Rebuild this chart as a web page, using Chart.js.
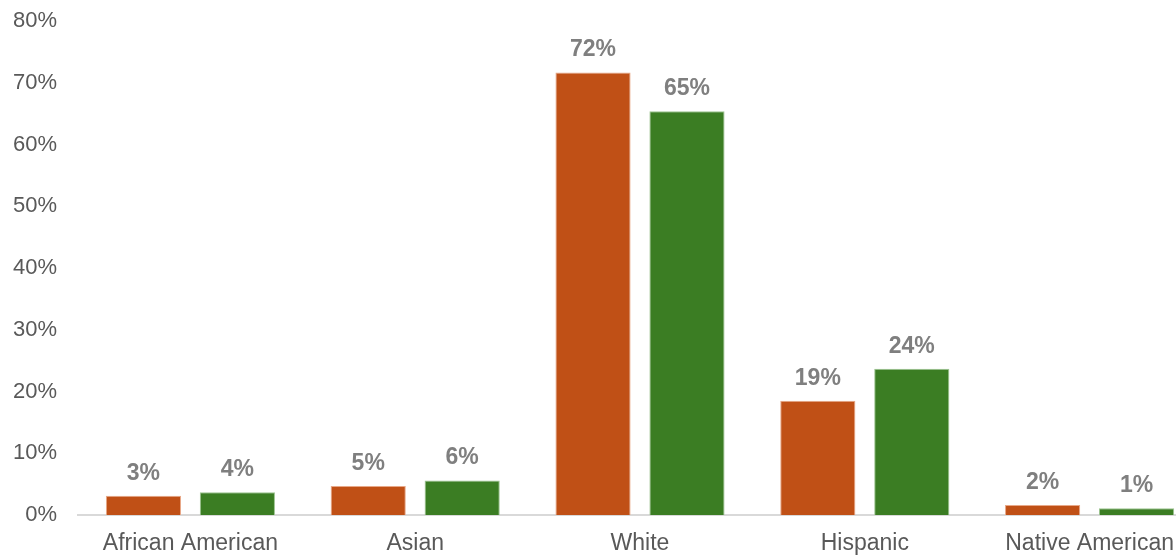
<!DOCTYPE html>
<html>
<head>
<meta charset="utf-8">
<script src="https://cdn.jsdelivr.net/npm/chart.js@4"></script>
<style>
  html, body { margin: 0; padding: 0; background: #fff; overflow: hidden; }
  #wrap { position: relative; width: 1202px; height: 555px; overflow: hidden; }
  #c { position: absolute; left: 0; top: -13px; }
</style>
</head>
<body>
<div id="wrap"><canvas id="c" width="1202" height="568"></canvas></div>
<script>
// Data.
const categories = ['African American', 'Asian', 'White', 'Hispanic', 'Native American'];
const seriesOrange = [3.1, 4.7, 71.7, 18.5, 1.6];
const seriesGreen = [3.7, 5.6, 65.4, 23.7, 1.1];
const yTicks = [0, 10, 20, 30, 40, 50, 60, 70, 80];

const FONT = '"Liberation Sans", Arial, sans-serif';

// Bold grey value labels above each bar.
const valueLabels = {
  id: 'valueLabels',
  afterDatasetsDraw(chart) {
    const ctx = chart.ctx;
    ctx.save();
    ctx.font = 'bold 23px ' + FONT;
    ctx.fillStyle = '#7f7f7f';
    ctx.textAlign = 'center';
    ctx.textBaseline = 'alphabetic';
    chart.data.datasets.forEach((ds, i) => {
      chart.getDatasetMeta(i).data.forEach((bar, j) => {
        ctx.fillText(Math.round(ds.data[j]) + '%', bar.x, bar.y - 16);
      });
    });
    ctx.restore();
  },
};

new Chart(document.getElementById('c'), {
  type: 'bar',
  data: {
    labels: categories,
    datasets: [
      {data: seriesOrange, backgroundColor: '#c05016', borderColor: '#e8a888', borderWidth: 1,
        barPercentage: 0.80, categoryPercentage: 0.836},
      {data: seriesGreen, backgroundColor: '#3b7d23', borderColor: '#9cc490', borderWidth: 1,
        barPercentage: 0.80, categoryPercentage: 0.836},
    ],
  },
  options: {
    responsive: false,
    animation: false,
    layout: {padding: 0},
    plugins: {legend: {display: false}, tooltip: {enabled: false}},
    scales: {
      x: {
        grid: {display: false, drawTicks: false},
        border: {display: true, color: '#d9d9d9', width: 2},
        ticks: {color: '#595959', font: {family: FONT, size: 23}, padding: 15, maxRotation: 0},
        afterFit(scale) { scale.height = 40; },
      },
      y: {
        min: 0,
        max: 80,
        afterBuildTicks(scale) { scale.ticks = yTicks.map((v) => ({value: v})); },
        grid: {display: false, drawTicks: false},
        border: {display: false},
        ticks: {color: '#595959', font: {family: FONT, size: 22}, padding: 21,
          callback: (v) => v + '%'},
        afterFit(scale) { scale.width = 78; },
      },
    },
  },
  plugins: [valueLabels],
});
</script>
</body>
</html>
